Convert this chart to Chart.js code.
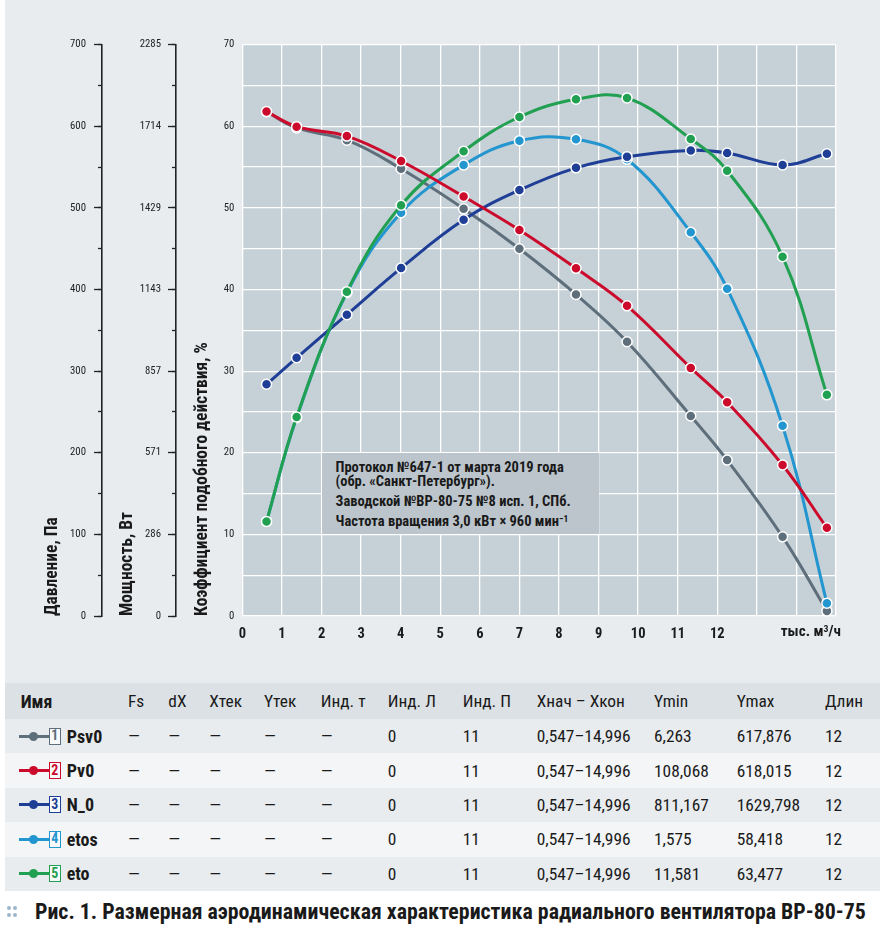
<!DOCTYPE html>
<html><head><meta charset="utf-8">
<script src="https://cdn.jsdelivr.net/npm/chart.js@4.4.1/dist/chart.umd.min.js"></script>
<style>
html,body{margin:0;padding:0;background:#fff;width:885px;height:932px;overflow:hidden;}
body{color:#1a1a1a;}
#wrap{position:absolute;left:5px;top:0;width:875px;height:683px;background:#e8ecef;}
#chartCanvas{position:absolute;left:0;top:0;}
#note{position:absolute;background:#bcc5cc;font-weight:bold;color:#1a1a1a;box-sizing:border-box;padding:8.5px 0 0 14px;white-space:nowrap;}
#note p{margin:0;}
#note sup{font-size:65%;line-height:0;vertical-align:0.45em;}
#unit{position:absolute;top:622px;right:39px;font-weight:bold;color:#1a1a1a;white-space:nowrap;}
#unit sup{font-size:65%;line-height:0;vertical-align:0.45em;}
#table{position:absolute;left:5px;top:683px;width:875px;}
.row{position:relative;height:34.4px;}
.row.head{height:36px;background:#dce1e5;}
.row.odd{background:#e8ecef;}
.row.even{background:#f3f5f7;}
.cell{position:absolute;top:0;height:100%;display:flex;align-items:center;white-space:nowrap;}
.bold{font-weight:bold;}
.mk{position:absolute;top:50%;}
.mk .ln{position:absolute;left:0;width:30px;height:3px;margin-top:-1.5px;top:0;}
.mk .dot{position:absolute;left:10px;width:9px;height:9px;border-radius:50%;top:-4.5px;}
.mk .box{position:absolute;left:30px;top:-8.5px;width:11.5px;height:17px;box-sizing:border-box;border:1.5px solid;background:#f7f9fa;font-weight:bold;display:flex;align-items:center;justify-content:center;line-height:1;}
#caption{position:absolute;left:35px;top:899px;font-weight:bold;color:#1a1a1a;white-space:nowrap;}
.bd{position:absolute;width:4px;height:4px;border-radius:50%;background:#9db6c9;}
</style></head>
<body>
<div id="wrap">
  <canvas id="chartCanvas" width="875" height="683"></canvas>
  <div id="note">
    <p id="n1">Протокол №647-1 от марта 2019 года</p>
    <p id="n2">(обр. «Санкт-Петербург»).</p>
    <p id="n3">Заводской №ВР-80-75 №8 исп. 1, СПб.</p>
    <p id="n4">Частота вращения 3,0 кВт × 960 мин<sup>−1</sup></p>
  </div>
  <div id="unit">тыс. м<sup>3</sup>/ч</div>
</div>
<div id="table"></div>
<div class="bd" style="left:7px;top:906px"></div><div class="bd" style="left:13px;top:906px"></div>
<div class="bd" style="left:7px;top:913px"></div><div class="bd" style="left:13px;top:913px"></div>
<div id="caption">Рис. 1. Размерная аэродинамическая характеристика радиального вентилятора ВР-80-75</div>
<script>
// ---- data ----
const flow = [0.61, 1.37, 2.64, 4.01, 5.59, 7.0, 8.43, 9.72, 11.33, 12.25, 13.65, 14.77];
const psv0 = [617.876, 598, 583, 548, 499, 450, 394, 336, 245, 191, 97, 6.263];
const pv0  = [618.015, 599.6, 588, 557.5, 514, 473, 426, 380, 304, 262, 185, 108.068];
const n0   = [811.167, 904, 1055, 1218, 1387, 1491, 1569, 1608, 1629.798, 1621, 1579, 1618];
const etos = [11.58, 24.3, 39.6, 49.42, 55.26, 58.24, 58.418, 55.96, 47.02, 40.11, 23.3, 1.575];
const eto  = [11.581, 24.38, 39.74, 50.33, 56.94, 61.14, 63.31, 63.477, 58.45, 54.56, 44.03, 27.1];

const xTickLabels = ['0','1','2','3','4','5','6','7','8','9','10','11','12'];
const pressureTickLabels = ['0','100','200','300','400','500','600','700'];
const powerTickLabels = ['0','286','571','857','1143','1429','1714','2285'];
const percentTickLabels = ['0','10','20','30','40','50','60','70'];

const seriesNames = ['Psv0','Pv0','N_0','etos','eto'];
const seriesNums = ['1','2','3','4','5'];
const rangeLabels = ['0,547–14,996','0,547–14,996','0,547–14,996','0,547–14,996','0,547–14,996'];
const yMinLabels = ['6,263','108,068','811,167','1,575','11,581'];
const yMaxLabels = ['617,876','618,015','1629,798','58,418','63,477'];
const lenLabels = ['12','12','12','12','12'];
const tableHeaders = ['Имя','Fs','dX','Xтек','Yтек','Инд. т','Инд. Л','Инд. П','Xнач – Xкон','Ymin','Ymax','Длин'];

// ---- font selection (prefer a condensed face) ----
const mctx = document.createElement('canvas').getContext('2d');
const probe = 'Коэффициент mwMW 0123 подобного';
function w(font, txt){ mctx.font = font; return mctx.measureText(txt || probe).width; }
function exists(fam){ return Math.abs(w('bold 40px '+fam+', monospace') - w('bold 40px monospace')) > 0.5; }
function sratio(fam){ return w('condensed bold 40px '+fam) / w('bold 40px '+fam); }
const cands = [
  {fam:'"Roboto Condensed"', st:false},
  {fam:'"Liberation Sans Narrow"', st:false},
  {fam:'"Open Sans"', st:true},
  {fam:'"Roboto"', st:true}
];
let chosen = null;
cands.forEach(c=>{
  if (chosen || !exists(c.fam)) return;
  if (!c.st) chosen = {fam:c.fam, stretch:false};
  else if (sratio(c.fam) < 0.93) chosen = {fam:c.fam, stretch:true};
});
if (!chosen) chosen = {fam:'"Roboto"', stretch:false};
const FAM = chosen.fam + ', "Roboto", sans-serif';
const ST = chosen.stretch ? 'condensed ' : '';
document.body.style.fontFamily = FAM;
document.body.style.fontStretch = chosen.stretch ? 'condensed' : 'normal';

// font size giving the reference string its width in the picture
function fit(txt, targetW, maxSize, bold){
  const base = 40; const mw = w(ST + (bold?'bold ':'') + base + 'px ' + FAM, txt);
  return Math.min(maxSize, base * targetW / mw);
}
const sz = {
  title: fit('Коэффициент подобного действия, %', 274, 18, true),
  ytick: fit('2285', 21.3, 13, false),
  xtick: 14.5,
  unit:  fit('тыс. м3/ч', 63, 17, true),
  note:  fit('Протокол №647-1 от марта 2019 года', 230, 14.5, true),
  cell:  fit('0,547–14,996', 94, 18, false),
  name:  fit('Psv0', 36, 18, true),
  caption: fit('Рис. 1. Размерная аэродинамическая характеристика радиального вентилятора ВР-80-75', 831, 23, true)
};

// ---- styles ----
const colors = {psv0:'#5e6f7b', pv0:'#cc0a2c', n0:'#1f3e96', etos:'#2496cf', eto:'#22a052'};
const seriesColors = [colors.psv0, colors.pv0, colors.n0, colors.etos, colors.eto];

function pts(ys){ return flow.map((x,i)=>({x:x, y:ys[i]})); }
function ds(label, ys, color, axis){
  return {label, data: pts(ys), yAxisID: axis, borderColor: color, backgroundColor: color,
    pointBackgroundColor: color, pointBorderColor:'#ffffff', pointBorderWidth:1.5, pointRadius:5,
    borderWidth:3, tension:0.4, clip:false, fill:false};
}
const plotBg = {
  id:'plotBg',
  beforeDraw(chart){
    const a = chart.chartArea, c = chart.ctx;
    c.save(); c.fillStyle = '#c5d0d7'; c.fillRect(a.left, a.top, a.right-a.left, a.bottom-a.top); c.restore();
  }
};
const tickFont = {family: FAM, size: sz.ytick, weight: ST + 'normal'};
const titleFont = {family: FAM, size: sz.title, weight: ST + 'bold'};
const titleHalf = sz.title * 1.2 / 2;
const ink = '#222';
function valueTicks(max, n){ const out=[]; for(let i=0;i<=n;i++) out.push({value: max*i/n}); return out; }

const chart = new Chart(document.getElementById('chartCanvas'), {
  type:'line',
  data:{ datasets:[
    ds('Pv0', pv0, colors.pv0, 'yPa'),
    ds('eto', eto, colors.eto, 'yPct'),
    ds('N_0', n0, colors.n0, 'yW'),
    ds('etos', etos, colors.etos, 'yPct'),
    ds('Psv0', psv0, colors.psv0, 'yPa')
  ]},
  options:{
    responsive:false, animation:false, devicePixelRatio:1,
    layout:{padding:{left:30, right:44, top:44.7, bottom:0}},
    plugins:{legend:{display:false}, tooltip:{enabled:false}},
    scales:{
      x:{type:'linear', min:0, max:15, position:'bottom',
        afterBuildTicks(s){ s.ticks = valueTicks(15, 15); },
        ticks:{autoSkip:false, maxRotation:0, padding:10, color:'#1a1a1a',
          font:{family:FAM, size:sz.xtick, weight: ST + 'bold'},
          callback:(v,i)=> xTickLabels[i] !== undefined ? xTickLabels[i] : ''},
        grid:{color:'#ffffff', lineWidth:1.3, drawTicks:false},
        border:{display:false},
        afterFit(s){ s.height = 67; }
      },
      yPa:{type:'linear', position:'left', weight:5, min:0, max:700,
        afterBuildTicks(s){ s.ticks = valueTicks(700, 7); },
        ticks:{padding:8, color:ink, font:tickFont, callback:(v,i)=>pressureTickLabels[i]},
        grid:{drawOnChartArea:false, drawTicks:true, tickLength:8, color:ink, tickWidth:1.3},
        border:{display:true, color:ink, width:1.6},
        title:{display:true, text:'Давление, Па', align:'start', color:'#1a1a1a', font:titleFont, padding:{top:18 - titleHalf, bottom:0}},
        afterFit(s){ s.width = 67; }
      },
      yPaMinor:{type:'linear', position:'left', weight:4, min:0, max:700,
        afterBuildTicks(s){ s.ticks = valueTicks(700, 14); },
        ticks:{display:false},
        grid:{drawOnChartArea:false, drawTicks:true, tickLength:4, color:ink, tickWidth:1.3},
        border:{display:false},
        afterFit(s){ s.width = 0; }
      },
      yW:{type:'linear', position:'left', weight:3, min:0, max:2000,
        afterBuildTicks(s){ s.ticks = valueTicks(2000, 7); },
        ticks:{padding:7, color:ink, font:tickFont, callback:(v,i)=>powerTickLabels[i]},
        grid:{drawOnChartArea:false, drawTicks:true, tickLength:8, color:ink, tickWidth:1.3},
        border:{display:true, color:ink, width:1.6},
        title:{display:true, text:'Мощность, Вт', align:'start', color:'#1a1a1a', font:titleFont, padding:{top:25.5 - titleHalf, bottom:0}},
        afterFit(s){ s.width = 74; }
      },
      yWMinor:{type:'linear', position:'left', weight:2, min:0, max:2000,
        afterBuildTicks(s){ s.ticks = valueTicks(2000, 14); },
        ticks:{display:false},
        grid:{drawOnChartArea:false, drawTicks:true, tickLength:4, color:ink, tickWidth:1.3},
        border:{display:false},
        afterFit(s){ s.width = 0; }
      },
      yPct:{type:'linear', position:'left', weight:1, min:0, max:70,
        afterBuildTicks(s){ s.ticks = valueTicks(70, 14); },
        ticks:{padding:8, color:ink, font:tickFont, callback:(v,i)=> i%2===0 ? percentTickLabels[i/2] : ''},
        grid:{color:'#ffffff', lineWidth:1.3, drawTicks:false},
        border:{display:false},
        title:{display:true, text:'Коэффициент подобного действия, %', align:'start', color:'#1a1a1a', font:titleFont, padding:{top:26.5 - titleHalf, bottom:0}},
        afterFit(s){ s.width = 66.4; }
      }
    }
  },
  plugins:[plotBg]
});

// annotation box anchored to data coordinates
(function(){
  const xs = chart.scales.x, ys = chart.scales.yPct, note = document.getElementById('note');
  const l = xs.getPixelForValue(2), r = xs.getPixelForValue(9);
  const t = ys.getPixelForValue(20), b = ys.getPixelForValue(10);
  note.style.left = l+'px'; note.style.top = t+'px';
  note.style.width = (r-l)+'px'; note.style.height = (b-t)+'px';
  note.style.fontSize = sz.note + 'px';
  const lh = [14, 20, 20];
  ['n1','n2','n3','n4'].forEach((id,i)=>{ const e=document.getElementById(id); e.style.lineHeight='14px'; e.style.height='14px'; if(i>0) e.style.marginTop = (lh[i-1]-14)+'px'; });
  document.getElementById('unit').style.fontSize = sz.unit + 'px';
  document.getElementById('caption').style.fontSize = sz.caption + 'px';
})();

// ---- table ----
const colX = [15.7,123,163.3,204.3,259,315.7,382.7,457.7,531.7,649,731.7,820];
const table = document.getElementById('table');
let html = '<div class="row head">';
tableHeaders.forEach((h,i)=>{ html += `<div class="cell${i===0?' bold':''}" style="left:${colX[i]}px;font-size:${i===0?sz.name:sz.cell}px">${h}</div>`; });
html += '</div>';
seriesNames.forEach((name,r)=>{
  const c = seriesColors[r];
  html += `<div class="row ${r%2===0?'odd':'even'}">`;
  html += `<div class="mk" style="left:14px"><div class="ln" style="background:${c}"></div><div class="dot" style="background:${c}"></div>`+
          `<div class="box" style="border-color:${c};color:${c};font-size:${sz.cell*0.8}px">${seriesNums[r]}</div></div>`;
  html += `<div class="cell bold" style="left:61.7px;font-size:${sz.name}px">${name}</div>`;
  const vals = ['—','—','—','—','—','0','11',rangeLabels[r],yMinLabels[r],yMaxLabels[r],lenLabels[r]];
  vals.forEach((v,i)=>{ html += `<div class="cell" style="left:${colX[i+1]}px;font-size:${sz.cell}px">${v}</div>`; });
  html += '</div>';
});
table.innerHTML = html;
</script>
</body></html>
